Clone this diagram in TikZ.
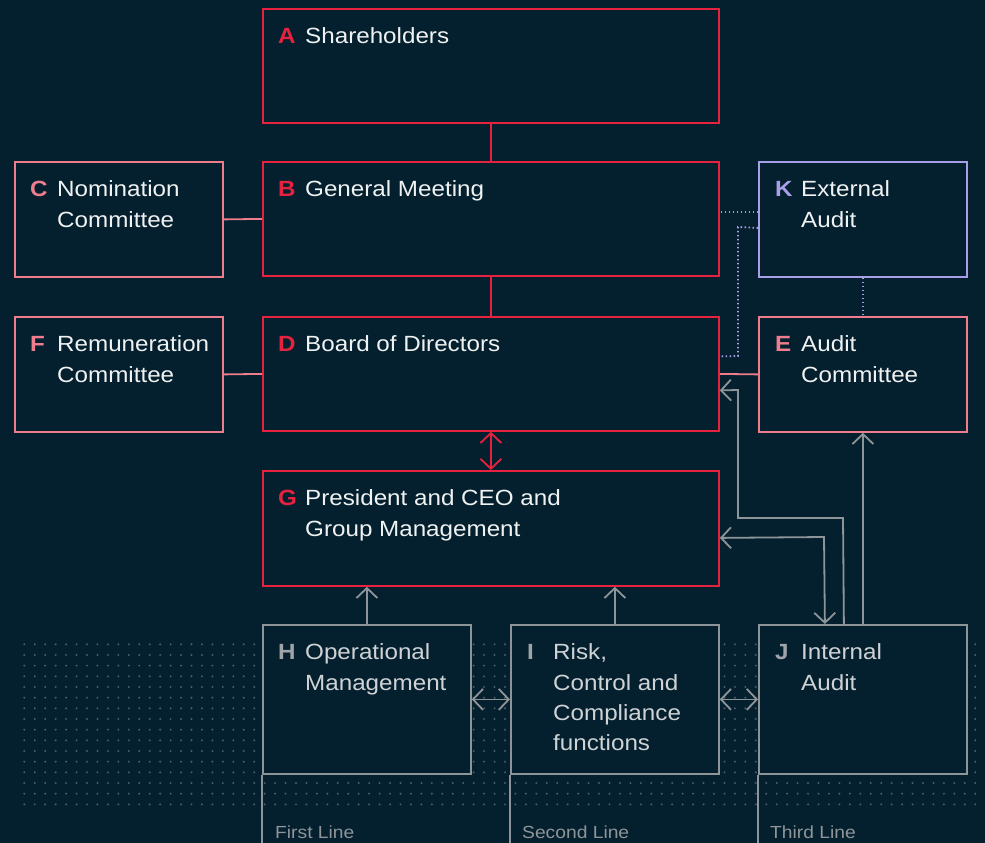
\documentclass[tikz,border=0pt]{standalone}
\usepackage{fontspec}
\setmainfont{Liberation Sans}[FakeStretch=1.1]
\usetikzlibrary{arrows.meta}
\definecolor{bg}{HTML}{04202F}
\definecolor{cred}{HTML}{E6223E}
\definecolor{cpink}{HTML}{EE7D8E}
\definecolor{clav}{HTML}{A89FE6}
\definecolor{cgrey}{HTML}{8E9598}
\definecolor{ctext}{HTML}{F0F2F2}
\definecolor{ctextg}{HTML}{CFD3D5}
\definecolor{cletg}{HTML}{9EA4A8}
\definecolor{cdot}{HTML}{4F5D66}
\newcommand{\tp}{\rule{0pt}{20pt}}
\begin{document}
\begin{tikzpicture}[x=1pt,y=-1pt,
  box/.style={draw=#1, line width=1.8pt, fill=bg, anchor=north west, inner sep=0pt},
  wide/.style={minimum width=456pt, minimum height=114pt},
  side/.style={minimum width=208pt, minimum height=115pt},
  low/.style={minimum width=208pt, minimum height=149pt},
  txt/.style={anchor=north west, inner sep=0pt, align=left, text=ctext, font=\fontsize{22}{30.3}\selectfont},
  txtg/.style={txt, text=ctextg},
  let/.style={anchor=base west, inner sep=0pt, text=#1, font=\fontsize{22}{30.3}\selectfont\bfseries},
  linelab/.style={anchor=base west, inner sep=0pt, text=cgrey, font=\fontsize{17.5}{20}\selectfont},
  conn/.style={draw=#1, line width=1.8pt},
  dotline/.style={draw=clav, line width=1.8pt, dash pattern=on 1.5pt off 2.5pt},
  tipb/.tip={Straight Barb[length=10pt,width=21pt]},
  arr/.style={line width=1.8pt, draw=#1, -tipb},
  darr/.style={line width=1.8pt, draw=#1, tipb-tipb}
]
\fill[bg] (0,0) rectangle (985,843);
\useasboundingbox (0,0) rectangle (985,843);

% dotted background
\foreach \i in {0,...,91}
  \foreach \j in {0,...,15}
    \fill[cdot] (24.3+\i*10.45, 644.3+\j*10.67) circle (1.1pt);

% boxes
\node[box=cred, wide] (A) at (262,8) {};
\node[box=cred, wide] (B) at (262,161) {};
\node[box=cpink, side] (C) at (14,161) {};
\node[box=clav, side] (K) at (758,161) {};
\node[box=cred, wide] (D) at (262,316) {};
\node[box=cpink, side] (F) at (14,316) {};
\node[box=cpink, side] (E) at (758,316) {};
\node[box=cred, wide, minimum height=115pt] (G) at (262,470) {};
\node[box=cgrey, low] (H) at (262,624) {};
\node[box=cgrey, low] (I) at (510,624) {};
\node[box=cgrey, low] (J) at (758,624) {};

% letters
\node[let=cred] (Al) at (278,43.5) {A};
\node[let=cred] (Bl) at (278,196.5) {B};
\node[let=cpink] (Cl) at (30,196.5) {C};
\node[let=clav] (Kl) at (775,196.5) {K};
\node[let=cred] (Dl) at (278,351.5) {D};
\node[let=cpink] (Fl) at (30,351.5) {F};
\node[let=cpink] (El) at (775,351.5) {E};
\node[let=cred] (Gl) at (278,505.5) {G};
\node[let=cletg] (Hl) at (278,659.5) {H};
\node[let=cletg] (Il) at (527,659.5) {I};
\node[let=cletg] (Jl) at (775,659.5) {J};

% texts
\node[txt] (At) at (305,23.5) {\tp Shareholders};
\node[txt] (Bt) at (305,176.5) {\tp General Meeting};
\node[txt] (Ct) at (57,176.5) {\tp Nomination\\Committee};
\node[txt] (Kt) at (801,176.5) {\tp External\\Audit};
\node[txt] (Dt) at (305,331.5) {\tp Board of Directors};
\node[txt] (Ft) at (57,331.5) {\tp Remuneration\\Committee};
\node[txt] (Et) at (801,331.5) {\tp Audit\\Committee};
\node[txt] (Gt) at (305,485.5) {\tp President and CEO and\\Group Management};
\node[txtg] (Ht) at (305,639.5) {\tp Operational\\Management};
\node[txtg] (It) at (553,639.5) {\tp Risk,\\Control and\\Compliance\\functions};
\node[txtg] (Jt) at (801,639.5) {\tp Internal\\Audit};

% lines of defence
\coordinate (Hb) at (262,843);
\coordinate (Ib) at (510,843);
\coordinate (Jb) at (758,843);
\draw[conn=cgrey] (H.south west) -- (Hb);
\draw[conn=cgrey] (I.south west) -- (Ib);
\draw[conn=cgrey] (J.south west) -- (Jb);
\node[linelab] (L1) at (275,838) {First Line};
\node[linelab] (L2) at (522,838) {Second Line};
\node[linelab] (L3) at (770,838) {Third Line};

% connectors
\draw[conn=cred] (A.south) -- (B.north);
\draw[conn=cred] (B.south) -- (D.north);
\draw[conn=cpink] (C.east) -- (B.west);
\draw[conn=cpink] (F.east) -- (D.west);
\draw[conn=cpink] (E.west) -- (D.east);
\draw[darr=cred] (D.south) -- (G.north);

\draw[dotline] ([yshift=7.5pt]K.west) -- ([yshift=7.5pt]K.west -| B.east);
\draw[dotline] ([yshift=-8.5pt]K.west) -- (738,227) -- (738,356) -- ([yshift=17.5pt]D.east);
\draw[dotline] (K.south) -- (E.north);

\draw[arr=cgrey] (H.north) -- (H.north |- G.south);
\draw[arr=cgrey] (I.north) -- (I.north |- G.south);
\draw[darr=cgrey] (H.east) -- (I.west);
\draw[darr=cgrey] (I.east) -- (J.west);
\draw[arr=cgrey] (J.north) -- (E.south);
\draw[arr=cgrey] ([xshift=-19pt]J.north) -- (843,518) -- (738,518) -- (738,390) -- ([yshift=-16.5pt]D.east);
\draw[darr=cgrey] ([yshift=-9.5pt]G.east) -- (824,537) -- ([xshift=-38pt]J.north);
\end{tikzpicture}
\end{document}
